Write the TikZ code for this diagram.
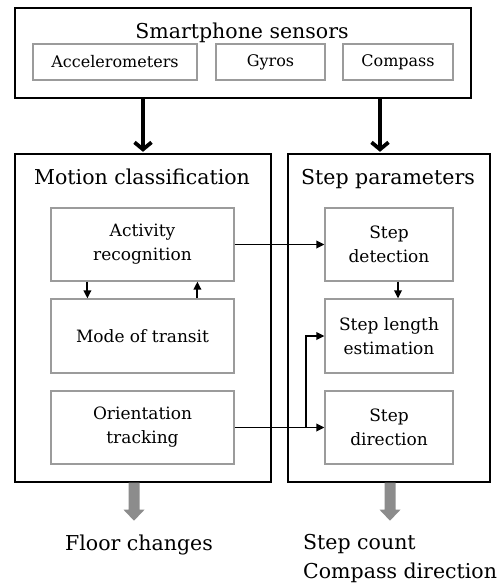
\documentclass[tikz,border=0pt]{standalone}
\usepackage{fontspec}
\setmainfont{DejaVu Serif}
\usetikzlibrary{arrows.meta,calc}
\definecolor{boxgray}{RGB}{155,155,155}
\definecolor{fatgray}{RGB}{140,140,140}
\begin{document}
\begin{tikzpicture}[x=1pt,y=-1pt,
  outerbox/.style={draw=black,line width=1.4pt,inner sep=0pt,rectangle},
  innerbox/.style={draw=boxgray,line width=1.2pt,inner sep=0pt,align=center,font=\fontsize{17}{24}\selectfont},
  sensorbox/.style={draw=boxgray,line width=1.2pt,inner sep=0pt,minimum height=36pt,font=\fontsize{16}{18}\selectfont},
  titletext/.style={inner sep=0pt,anchor=base,font=\fontsize{20.5}{24}\selectfont},
  thickarrow/.style={line width=3.8pt,-{Straight Barb[length=7pt,width=17pt]},shorten >=1.5pt},
  thinarrow/.style={line width=1.9pt,-{Triangle[length=8pt,width=7.5pt]}},
  fatarrow/.style={fill=fatgray}]
\useasboundingbox (0,0) rectangle (500,583);
% top block
\node[outerbox,minimum width=456pt,minimum height=90pt] (top) at (243,53) {};
\node[titletext] (toptitle) at (242,39) {Smartphone sensors};
\node[sensorbox,minimum width=164pt] (acc) at (115,62) {Accelerometers};
\node[sensorbox,minimum width=109pt] (gyr) at (270.5,62) {Gyros};
\node[sensorbox,minimum width=110pt] (cmp) at (398,62) {Compass};
% big blocks
\node[outerbox,minimum width=256pt,minimum height=328pt] (mot) at (143,318) {};
\node[outerbox,minimum width=202pt,minimum height=328pt] (stp) at (389,318) {};
\node[titletext] (mottitle) at (142,184) {Motion classification};
\node[titletext] (stptitle) at (388,184) {Step parameters};
% inner left
\node[innerbox,minimum width=183pt,minimum height=73pt] (act) at (142.5,244.5) {Activity\\recognition};
\node[innerbox,minimum width=183pt,minimum height=74pt] (mode) at (142.5,336) {Mode of transit};
\node[innerbox,minimum width=183pt,minimum height=73pt] (ori) at (142.5,427.5) {Orientation\\tracking};
% inner right
\node[innerbox,minimum width=128pt,minimum height=73pt] (sdet) at (389,244.5) {Step\\detection};
\node[innerbox,minimum width=128pt,minimum height=74pt] (slen) at (389,336) {Step length\\estimation};
\node[innerbox,minimum width=128pt,minimum height=73pt] (sdir) at (389,427.5) {Step\\direction};
% thick arrows
\draw[thickarrow] (top.south -| mot.north) -- (mot.north);
\draw[thickarrow] ([xshift=-9pt]stp.north |- top.south) -- ([xshift=-9pt]stp.north);
% thin arrows
\draw[thinarrow] (act.east) -- (sdet.west);
\draw[thinarrow] ([xshift=37pt]act.south west) -- ([xshift=37pt]mode.north west);
\draw[thinarrow] ([xshift=147pt]mode.north west) -- ([xshift=147pt]act.south west);
\draw[thinarrow] ([xshift=9pt]sdet.south) -- ([xshift=9pt]slen.north);
\draw[thinarrow] (ori.east) -- (sdir.west);
\coordinate (br) at ([xshift=-18pt]sdir.west);
\draw[thinarrow] (br) |- (slen.west);
% gray output arrows
\fill[fatarrow] ([xshift=-9pt]mot.south) ++(-5.5,0) -- ++(0,27) -- ++(-5,0) -- ++(10.5,11) -- ++(10.5,-11) -- ++(-5,0) -- ++(0,-27) -- cycle;
\fill[fatarrow] ([xshift=1pt]stp.south) ++(-5.5,0) -- ++(0,27) -- ++(-5,0) -- ++(10.5,11) -- ++(10.5,-11) -- ++(-5,0) -- ++(0,-27) -- cycle;
% outputs
\node[titletext] (floor) at (139,550) {Floor changes};
\node[titletext,anchor=base west] (count) at (303,549) {Step count};
\node[titletext,anchor=base west] (cdir) at (303,578) {Compass direction};
\end{tikzpicture}
\end{document}
